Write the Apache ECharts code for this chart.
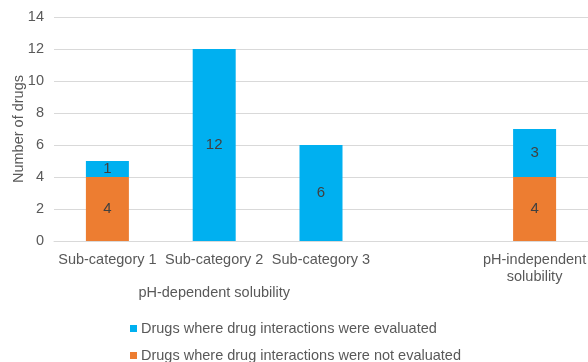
<!DOCTYPE html>
<html>
<head>
<meta charset="utf-8">
<script src="https://cdn.jsdelivr.net/npm/echarts@6/dist/echarts.min.js"></script>
<style>
  html, body { margin: 0; padding: 0; background: #fff; }
  #chart { width: 588px; height: 362px; }
</style>
</head>
<body>
<div id="chart"></div>
<script>
// Categories (the fourth slot is an empty spacer between the two groups)
const categories = ['Sub-category 1', 'Sub-category 2', 'Sub-category 3', '', 'pH-independent\nsolubility'];
const groupLabels = ['', 'pH-dependent solubility', '', '', ''];
const notEvaluated = [4, null, null, null, 4];
const evaluated = [1, 12, 6, null, 3];
const yTicks = { min: 0, max: 14, interval: 2 };
const seriesNames = ['Drugs where drug interactions were evaluated', 'Drugs where drug interactions were not evaluated'];

const FONT = '"Liberation Sans", Arial, sans-serif';
const TEXT = '#595959';
const FS = 14.5;

const chart = echarts.init(document.getElementById('chart'), null, { renderer: 'canvas' });

const labelStyle = {
  show: true,
  position: 'inside',
  color: '#404040',
  fontFamily: FONT,
  fontSize: 15,
  formatter: p => (p.value == null ? '' : p.value)
};

const legendBase = {
  left: 125,
  itemWidth: 7,
  itemHeight: 7,
  icon: 'rect',
  textStyle: { color: TEXT, fontFamily: FONT, fontSize: FS, padding: [0, 0, 0, -1] }
};

chart.setOption({
  animation: false,
  grid: { left: 54, right: 0, top: 17, bottom: 121, containLabel: false, outerBoundsMode: 'none' },
  legend: [
    Object.assign({}, legendBase, { top: 316, data: [seriesNames[0]] }),
    Object.assign({}, legendBase, { top: 343, data: [seriesNames[1]] })
  ],
  xAxis: [
    {
      type: 'category',
      data: categories,
      axisLine: { lineStyle: { color: '#d9d9d9', width: 1 } },
      axisTick: { show: false },
      axisLabel: { color: TEXT, fontFamily: FONT, fontSize: FS, margin: 10, lineHeight: 17, interval: 0 }
    },
    {
      type: 'category',
      position: 'bottom',
      offset: 33,
      data: groupLabels,
      axisLine: { show: false },
      axisTick: { show: false },
      axisLabel: { color: TEXT, fontFamily: FONT, fontSize: FS, margin: 11, interval: 0 }
    }
  ],
  yAxis: {
    type: 'value',
    min: yTicks.min,
    max: yTicks.max,
    interval: yTicks.interval,
    name: 'Number of drugs',
    nameLocation: 'middle',
    nameGap: 28,
    nameMoveOverlap: false,
    nameTextStyle: { color: TEXT, fontFamily: FONT, fontSize: FS },
    axisLine: { show: false },
    axisTick: { show: false },
    axisLabel: { color: TEXT, fontFamily: FONT, fontSize: FS, margin: 10 },
    splitLine: { lineStyle: { color: '#d9d9d9', width: 1 } }
  },
  series: [
    {
      name: seriesNames[1],
      type: 'bar',
      stack: 'drugs',
      barWidth: 43,
      data: notEvaluated,
      itemStyle: { color: '#ED7D31' },
      label: labelStyle
    },
    {
      name: seriesNames[0],
      type: 'bar',
      stack: 'drugs',
      barWidth: 43,
      data: evaluated,
      itemStyle: { color: '#00B0F0' },
      label: labelStyle
    }
  ]
});
</script>
</body>
</html>
